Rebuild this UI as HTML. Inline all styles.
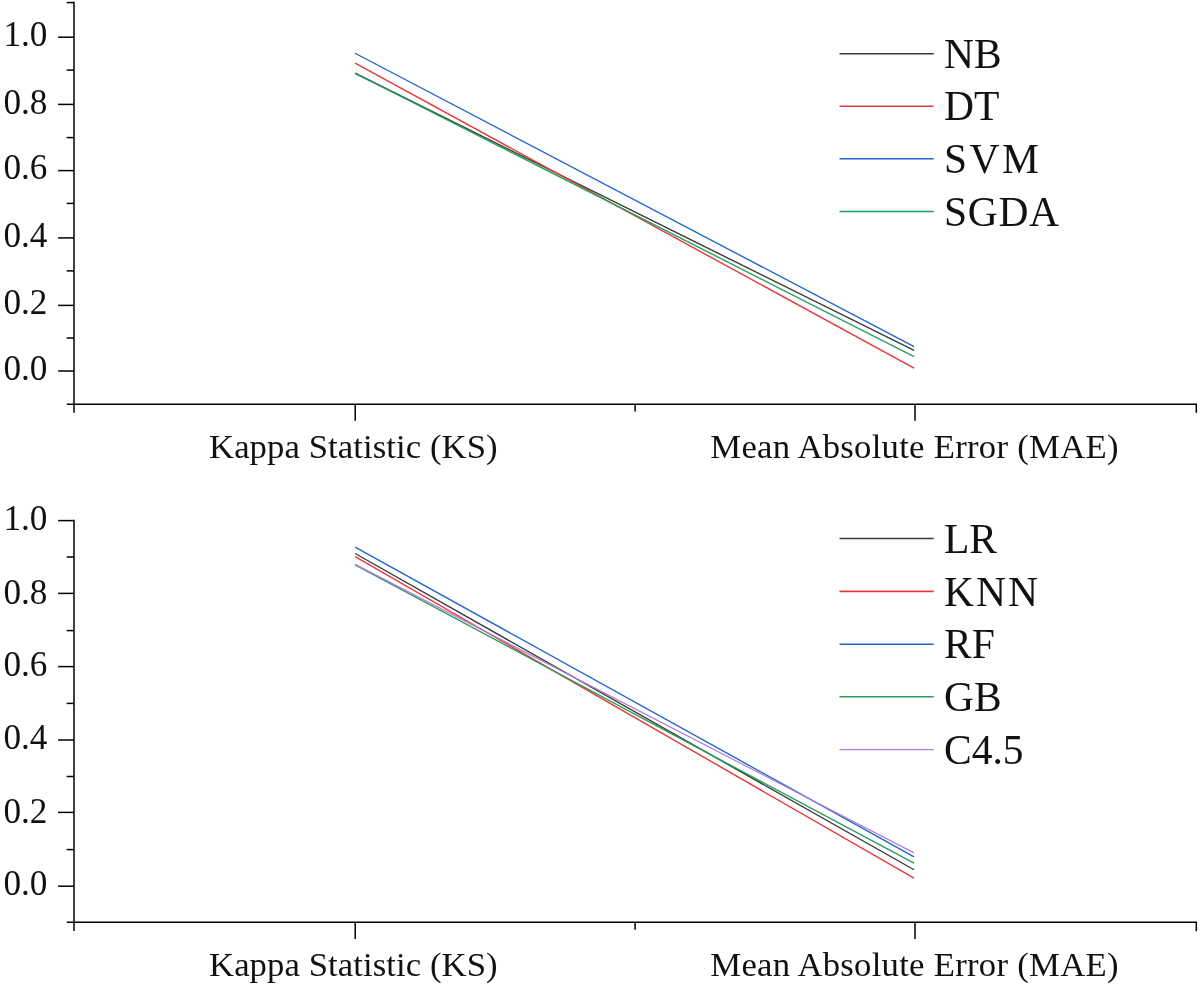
<!DOCTYPE html>
<html><head><meta charset="utf-8"><style>
html,body{margin:0;padding:0;background:#fff;}
svg{display:block;will-change:transform;}
text{font-family:"Liberation Serif", serif;fill:#111;}
</style></head><body>
<svg width="1200" height="985" viewBox="0 0 1200 985">
<rect width="1200" height="985" fill="#fff"/>
<line x1="355.6" y1="73.5" x2="913.6" y2="350.2" stroke="#3a3a3a" stroke-width="1.4" stroke-linecap="round"/>
<line x1="355.6" y1="63.4" x2="913.6" y2="367.9" stroke="#e23a3a" stroke-width="1.4" stroke-linecap="round"/>
<line x1="355.6" y1="53.5" x2="913.6" y2="346.4" stroke="#2366d1" stroke-width="1.4" stroke-linecap="round"/>
<line x1="355.6" y1="73.3" x2="913.6" y2="356.3" stroke="#2a9d5c" stroke-width="1.4" stroke-linecap="round"/>
<path d="M74 1.85 V412.7" stroke="#000" stroke-width="1.5" fill="none"/>
<path d="M66.8 404.2 H1197" stroke="#000" stroke-width="1.6" fill="none"/>
<path d="M58.1 371.0 H74" stroke="#000" stroke-width="1.5"/>
<path d="M58.1 305.4 H74" stroke="#000" stroke-width="1.5"/>
<path d="M58.1 237.9 H74" stroke="#000" stroke-width="1.5"/>
<path d="M58.1 170.6 H74" stroke="#000" stroke-width="1.5"/>
<path d="M58.1 104.4 H74" stroke="#000" stroke-width="1.5"/>
<path d="M58.1 37.2 H74" stroke="#000" stroke-width="1.5"/>
<path d="M66.7 338.0 H74" stroke="#000" stroke-width="1.5"/>
<path d="M66.7 270.9 H74" stroke="#000" stroke-width="1.5"/>
<path d="M66.7 203.4 H74" stroke="#000" stroke-width="1.5"/>
<path d="M66.7 137.6 H74" stroke="#000" stroke-width="1.5"/>
<path d="M66.7 70.1 H74" stroke="#000" stroke-width="1.5"/>
<path d="M66.7 2.6 H74" stroke="#000" stroke-width="1.5"/>
<path d="M355.2 404.0 V420.7" stroke="#000" stroke-width="1.5"/>
<path d="M915 404.0 V420.7" stroke="#000" stroke-width="1.5"/>
<path d="M635.1 404.0 V411.5" stroke="#000" stroke-width="1.5"/>
<path d="M1196.3 404.0 V412.9" stroke="#000" stroke-width="1.5"/>
<text x="47.4" y="379.90" text-anchor="end" font-size="35.2">0.0</text>
<text x="47.4" y="314.20" text-anchor="end" font-size="35.2">0.2</text>
<text x="47.4" y="246.80" text-anchor="end" font-size="35.2">0.4</text>
<text x="47.4" y="179.40" text-anchor="end" font-size="35.2">0.6</text>
<text x="47.4" y="113.60" text-anchor="end" font-size="35.2">0.8</text>
<text x="47.4" y="45.85" text-anchor="end" font-size="35.2">1.0</text>
<text x="209" y="457.7" font-size="34.7" textLength="288.6" lengthAdjust="spacing">Kappa Statistic (KS)</text>
<text x="710.3" y="457.7" font-size="34.7" textLength="408.2" lengthAdjust="spacing">Mean Absolute Error (MAE)</text>
<line x1="839.5" y1="53.7" x2="933.7" y2="53.7" stroke="#3a3a3a" stroke-width="1.6"/>
<text x="944" y="67.70" font-size="41.5">NB</text>
<line x1="839.5" y1="106.3" x2="933.7" y2="106.3" stroke="#e23a3a" stroke-width="1.6"/>
<text x="944" y="120.30" font-size="41.5">DT</text>
<line x1="839.5" y1="158.8" x2="933.7" y2="158.8" stroke="#2366d1" stroke-width="1.6"/>
<text x="944" y="172.80" font-size="41.5" textLength="95" lengthAdjust="spacing">SVM</text>
<line x1="839.5" y1="211.5" x2="933.7" y2="211.5" stroke="#2a9d5c" stroke-width="1.6"/>
<text x="944" y="225.50" font-size="41.5" textLength="115" lengthAdjust="spacing">SGDA</text>
<line x1="355.6" y1="553.75" x2="913.6" y2="869.5" stroke="#3a3a3a" stroke-width="1.4" stroke-linecap="round"/>
<line x1="355.6" y1="556.9" x2="913.6" y2="877.9" stroke="#e23a3a" stroke-width="1.4" stroke-linecap="round"/>
<line x1="355.6" y1="547.3" x2="913.6" y2="856.6" stroke="#2366d1" stroke-width="1.4" stroke-linecap="round"/>
<line x1="355.6" y1="565.2" x2="913.6" y2="862.9" stroke="#2a9d5c" stroke-width="1.4" stroke-linecap="round"/>
<line x1="355.6" y1="564.6" x2="913.6" y2="852.6" stroke="#ad7fd4" stroke-width="1.2" stroke-linecap="round"/>
<path d="M74 519.85 V931.0" stroke="#000" stroke-width="1.5" fill="none"/>
<path d="M66.8 922.2 H1197" stroke="#000" stroke-width="1.6" fill="none"/>
<path d="M58.1 886.2 H74" stroke="#000" stroke-width="1.5"/>
<path d="M58.1 812.4 H74" stroke="#000" stroke-width="1.5"/>
<path d="M58.1 740.0 H74" stroke="#000" stroke-width="1.5"/>
<path d="M58.1 666.6 H74" stroke="#000" stroke-width="1.5"/>
<path d="M58.1 593.4 H74" stroke="#000" stroke-width="1.5"/>
<path d="M58.1 520.6 H74" stroke="#000" stroke-width="1.5"/>
<path d="M66.7 849.6 H74" stroke="#000" stroke-width="1.5"/>
<path d="M66.7 776.5 H74" stroke="#000" stroke-width="1.5"/>
<path d="M66.7 703.4 H74" stroke="#000" stroke-width="1.5"/>
<path d="M66.7 630.6 H74" stroke="#000" stroke-width="1.5"/>
<path d="M66.7 557.0 H74" stroke="#000" stroke-width="1.5"/>
<path d="M355.2 922.3 V939.0" stroke="#000" stroke-width="1.5"/>
<path d="M915 922.3 V939.0" stroke="#000" stroke-width="1.5"/>
<path d="M635.1 922.3 V929.8" stroke="#000" stroke-width="1.5"/>
<path d="M1196.3 922.3 V931.1999999999999" stroke="#000" stroke-width="1.5"/>
<text x="47.4" y="894.80" text-anchor="end" font-size="35.2">0.0</text>
<text x="47.4" y="822.80" text-anchor="end" font-size="35.2">0.2</text>
<text x="47.4" y="748.80" text-anchor="end" font-size="35.2">0.4</text>
<text x="47.4" y="676.40" text-anchor="end" font-size="35.2">0.6</text>
<text x="47.4" y="603.85" text-anchor="end" font-size="35.2">0.8</text>
<text x="47.4" y="529.85" text-anchor="end" font-size="35.2">1.0</text>
<text x="209" y="976.0" font-size="34.7" textLength="288.6" lengthAdjust="spacing">Kappa Statistic (KS)</text>
<text x="710.3" y="976.0" font-size="34.7" textLength="408.2" lengthAdjust="spacing">Mean Absolute Error (MAE)</text>
<line x1="839.5" y1="538.5" x2="933.7" y2="538.5" stroke="#3a3a3a" stroke-width="1.6"/>
<text x="944" y="552.60" font-size="41.5">LR</text>
<line x1="839.5" y1="591.4" x2="933.7" y2="591.4" stroke="#e23a3a" stroke-width="1.6"/>
<text x="944" y="605.50" font-size="41.5" textLength="93.9" lengthAdjust="spacing">KNN</text>
<line x1="839.5" y1="644.2" x2="933.7" y2="644.2" stroke="#2366d1" stroke-width="1.6"/>
<text x="944" y="658.30" font-size="41.5">RF</text>
<line x1="839.5" y1="696.8" x2="933.7" y2="696.8" stroke="#2a9d5c" stroke-width="1.6"/>
<text x="944" y="710.90" font-size="41.5">GB</text>
<line x1="839.5" y1="749.7" x2="933.7" y2="749.7" stroke="#ad7fd4" stroke-width="1.2"/>
<text x="944" y="763.80" font-size="41.5">C4.5</text>
</svg>
</body></html>
